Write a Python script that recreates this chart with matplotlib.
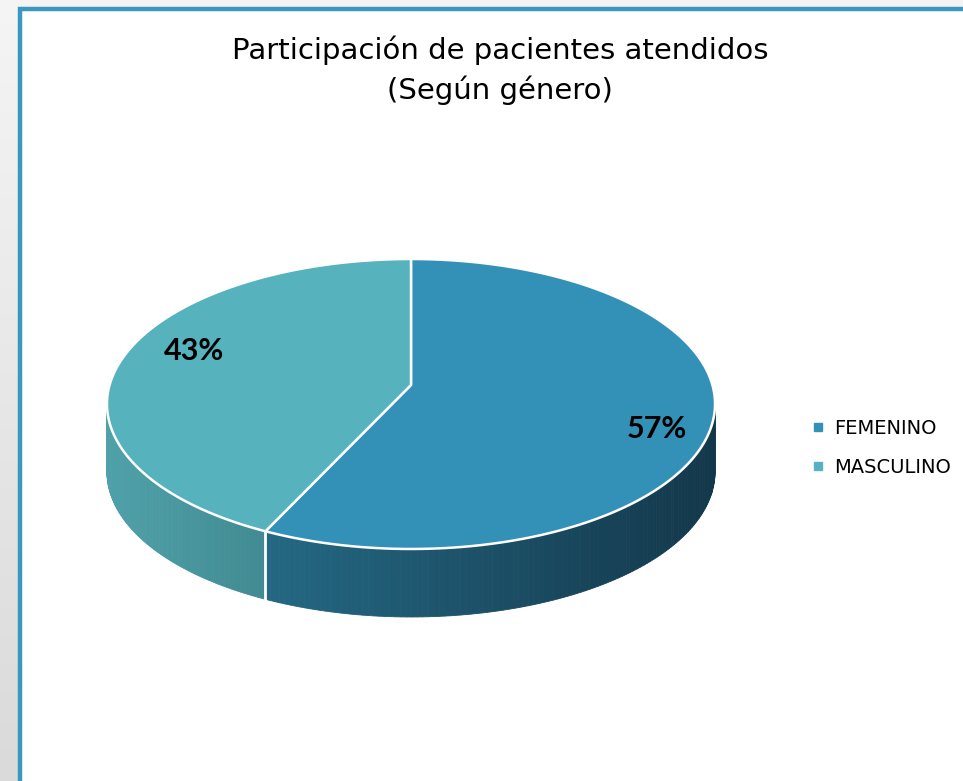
import numpy as np
import matplotlib
matplotlib.use('Agg')
import matplotlib.pyplot as plt
import matplotlib.patches as patches
from matplotlib.lines import Line2D

# data
categories = ['FEMENINO', 'MASCULINO']
shares = [57, 43]
top_colors = ['#3391b8', '#56b2bd']
side_colors = [('#246883', '#13374a'), ('#4fa1a9', '#418a92')]

title = 'Participación de pacientes atendidos\n(Según género)'

# pie geometry (pixels), simple perspective: far half is shrunk
cx, cy = 411, 385      # projected centre of the top face
a, b = 301.4, 142.5    # half width / half height scale
k = 0.131              # perspective strength
depth = 68


def pt(t, dy=0):
    # screen point on the rim for angle t (degrees, math orientation)
    r = np.radians(t)
    w = 1 + k * np.sin(r)
    return cx + a * np.cos(r) / w, cy - b * np.sin(r) / w + dy


def mix(c1, c2, f):
    p = np.array(matplotlib.colors.to_rgb(c1))
    q = np.array(matplotlib.colors.to_rgb(c2))
    return p + (q - p) * f


fig = plt.figure(figsize=(9.63, 7.81), dpi=100)
ax = fig.add_axes([0, 0, 1, 1])
ax.set_xlim(0, 963)
ax.set_ylim(781, 0)
ax.axis('off')

# grey gradient slide background
grad = np.linspace(0.96, 0.855, 256).reshape(-1, 1)
ax.imshow(np.dstack([grad, grad, grad]), extent=[0, 963, 781, 0], aspect='auto', zorder=0)

# white chart panel with blue frame
panel = patches.Rectangle((19.5, 8.5), 1000, 800, facecolor='white', edgecolor='#3a97c0',
                          linewidth=3.2, zorder=1)
ax.add_patch(panel)

# slice angles (clockwise from 12 o'clock)
total = float(sum(shares))
bounds = [90.0]
for s in shares:
    bounds.append(bounds[-1] - 360.0 * s / total)

# visible wall runs between the two widest points of the rim
edge = np.degrees(np.arcsin(k))
wall_hi, wall_lo = -edge, -180.0 + edge

for i in range(len(shares)):
    t0, t1 = bounds[i], bounds[i + 1]
    a0, a1 = min(t0, wall_hi), max(t1, wall_lo)
    if a0 <= a1:
        continue
    ts = np.linspace(a0, a1, 120)
    xs = [pt(t)[0] for t in ts]
    xmin, xmax = min(xs), max(xs)
    for j in range(len(ts) - 1):
        p1, p2 = pt(ts[j]), pt(ts[j + 1])
        xm = 0.5 * (p1[0] + p2[0])
        f = (xm - xmin) / (xmax - xmin)
        col = mix(side_colors[i][0], side_colors[i][1], f)
        quad = [p1, p2, (p2[0], p2[1] + depth), (p1[0], p1[1] + depth)]
        ax.add_patch(patches.Polygon(quad, closed=True, facecolor=col, edgecolor=col,
                                     linewidth=0.6, zorder=2))

# vertical seam between slices on the wall
for t in bounds[1:-1]:
    if wall_lo < t < wall_hi:
        x, y = pt(t)
        ax.plot([x, x], [y, y + depth], color='white', lw=2, zorder=3)

# top faces
for i in range(len(shares)):
    ts = np.linspace(bounds[i], bounds[i + 1], 200)
    verts = [(cx, cy)] + [pt(t) for t in ts]
    ax.add_patch(patches.Polygon(verts, closed=True, facecolor=top_colors[i],
                                 edgecolor='white', linewidth=1.8, joinstyle='round', zorder=4))

# percentage labels
label_pos = [(657, 429), (194, 351)]
for i, s in enumerate(shares):
    ax.text(label_pos[i][0], label_pos[i][1], f'{s}%', ha='center', va='center',
            fontsize=22, fontweight='bold', family='Lato', color='black', zorder=5)

ax.text(500, 70, title, ha='center', va='center', fontsize=21, family='DejaVu Sans',
        color='black', linespacing=1.45, zorder=5)

handles = [Line2D([], [], marker='s', linestyle='none', markersize=6,
                  markerfacecolor=c, markeredgecolor=c) for c in top_colors]
leg = ax.legend(handles, categories, loc='center left', bbox_to_anchor=(794, 448),
                bbox_transform=ax.transData, frameon=False,
                handlelength=0.7, handletextpad=0.45, labelspacing=1.05,
                prop={'family': 'DejaVu Sans', 'size': 14})
leg.set_zorder(6)

fig.savefig('out.png', dpi=100)
